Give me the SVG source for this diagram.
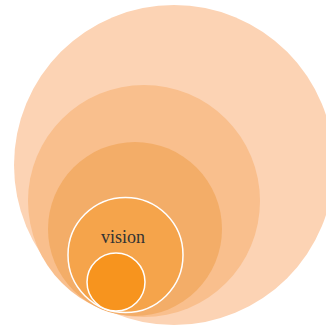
<svg xmlns="http://www.w3.org/2000/svg" width="326" height="325" viewBox="0 0 326 325">
<style>
.lbl{font-family:"Liberation Serif","Times New Roman",serif;font-size:18px;fill:#333333;text-anchor:middle}
.ring{stroke:#ffffff;stroke-width:1.5}
</style>
<rect width="326" height="325" fill="#ffffff"/>
<g id="c1"><circle cx="174" cy="165" r="160" fill="#FCD3B4"/></g>
<g id="c2"><circle cx="144" cy="201" r="116" fill="#F9BF8D"/></g>
<g id="c3"><circle cx="135" cy="229" r="87" fill="#F3AD68"/></g>
<g id="c4"><circle class="ring" cx="125.5" cy="255" r="57.5" fill="#F5A44B"/><text class="lbl" x="123" y="243">vision</text></g>
<g id="c5"><circle class="ring" cx="116" cy="282" r="29" fill="#F7941E"/></g>
<g id="connectors"/>
</svg>
